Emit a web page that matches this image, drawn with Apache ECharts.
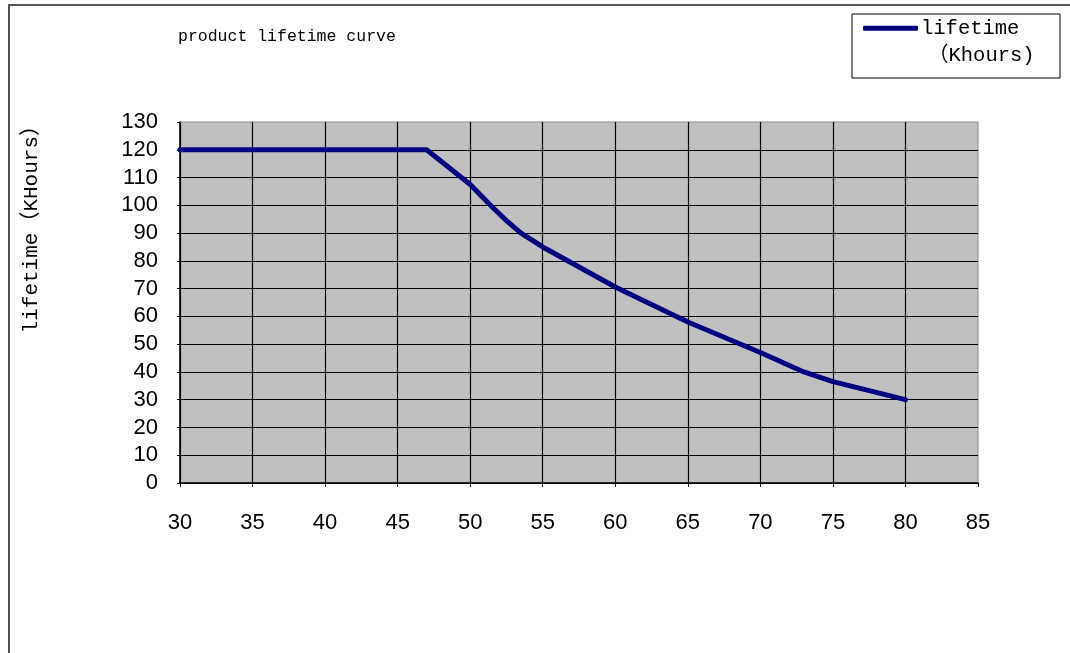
<!DOCTYPE html>
<html>
<head>
	<meta charset="utf-8">
	<title>product lifetime curve</title>
	<script src="https://cdn.jsdelivr.net/npm/echarts@6/dist/echarts.min.js"></script>
	<style>
		html, body { margin: 0; padding: 0; background: #fff; }
		#box { width: 1070px; height: 653px; }
	</style>
</head>
<body>
	<div id="box"></div>
</body>

<script type="text/javascript">
	// 温度 / 寿命
	var temp_list = [30, 47, 50, 51.5, 52.5, 53.5, 55, 57.5, 60, 65, 70, 73, 75, 80];
	var life_list = [120, 120, 107.5, 99.5, 94.5, 90, 85, 77.8, 70.6, 58, 47, 40, 36.5, 30];
	var x_ticks = [30, 35, 40, 45, 50, 55, 60, 65, 70, 75, 80, 85];
	var y_ticks = [0, 10, 20, 30, 40, 50, 60, 70, 80, 90, 100, 110, 120, 130];

	var mono = '"Liberation Mono", "DejaVu Sans Mono", "Noto Sans CJK SC", monospace';
	var sans = '"Liberation Sans", Arial, sans-serif';

	var points = [];
	for (var i = 0; i < temp_list.length; i++) {
		points.push([temp_list[i], life_list[i]]);
	}

	var option = {
		animation: false,
		title: {
			text: 'product lifetime curve',
			left: 173,
			top: 23,
			textStyle: { fontFamily: mono, fontSize: 16.5, fontWeight: 'normal', color: '#000' }
		},
		legend: {
			left: 858,
			top: 13,
			padding: 5,
			icon: 'roundRect',
			itemWidth: 55,
			itemHeight: 5,
			itemGap: 0,
			textStyle: { fontFamily: mono, fontSize: 20.5, color: '#000', padding: [0, 0, 0, -2] },
			data: ['lifetime']
		},
		graphic: [
			{
				type: 'rect',
				shape: { x: 9, y: 5, width: 1100, height: 700 },
				style: { fill: 'none', stroke: '#555', lineWidth: 2 },
				silent: true
			},
			{
				type: 'rect',
				shape: { x: 852, y: 14, width: 208, height: 64 },
				style: { fill: 'none', stroke: '#000', lineWidth: 1 },
				silent: true
			},
			{
				type: 'text',
				left: 928,
				top: 45,
				style: { text: '（Khours)', font: '20.5px ' + mono, fill: '#000' },
				silent: true
			},
			{
				type: 'text',
				left: 21,
				top: 115,
				rotation: Math.PI / 2,
				style: { text: 'lifetime（KHours）', font: '21px ' + mono, fill: '#000' },
				silent: true
			}
		],
		grid: {
			left: 180,
			top: 122,
			right: 92,
			bottom: 170,
			show: true,
			backgroundColor: '#c0c0c0',
			borderColor: '#8c8c8c',
			borderWidth: 1
		},
		xAxis: {
			type: 'value',
			min: x_ticks[0],
			max: x_ticks[x_ticks.length - 1],
			interval: 5,
			axisLine: { show: true, lineStyle: { color: '#000', width: 1.5 } },
			axisTick: { show: true, length: 4, lineStyle: { color: '#000' } },
			axisLabel: { margin: 29, color: '#000', fontFamily: sans, fontSize: 22 },
			splitLine: { show: true, showMaxLine: false, lineStyle: { color: '#000', width: 1.2 } }
		},
		yAxis: {
			type: 'value',
			min: y_ticks[0],
			max: y_ticks[y_ticks.length - 1],
			interval: 10,
			axisLine: { show: true, lineStyle: { color: '#000', width: 1.5 } },
			axisTick: { show: true, length: 3, lineStyle: { color: '#000' } },
			axisLabel: { margin: 22, color: '#000', fontFamily: sans, fontSize: 22 },
			splitLine: { show: true, showMaxLine: false, lineStyle: { color: '#000', width: 1.2 } }
		},
		series: [{
			name: 'lifetime',
			type: 'line',
			data: points,
			symbol: 'none',
			smooth: false,
			lineStyle: { color: '#000080', width: 5, cap: 'round', join: 'round' },
			itemStyle: { color: '#000080' }
		}]
	};

	var chartDom = document.getElementById('box');
	var myChart = echarts.init(chartDom);
	myChart.setOption(option);
</script>
</html>
